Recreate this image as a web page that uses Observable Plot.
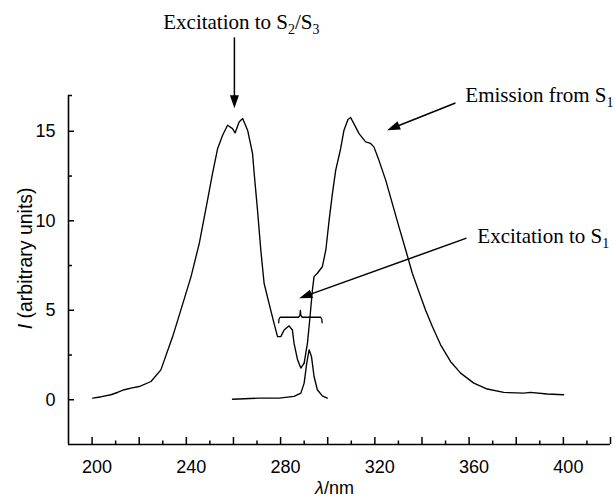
<!DOCTYPE html>
<html><head><meta charset="utf-8">
<script src="https://cdn.jsdelivr.net/npm/d3@7"></script>
<script src="https://cdn.jsdelivr.net/npm/@observablehq/plot@0.6"></script>
<style>html,body{margin:0;padding:0;background:#fff}#chart svg{display:block}</style>
</head><body><div id="chart"></div>
<script>
// ---- data ----
const excitationNm = [200.3, 204, 208, 211, 213.7, 217, 220, 225, 229.2, 234.2, 237.7, 242, 245.5, 249, 251.1, 253.3, 255.4, 257.5, 259.6, 260.7, 262.4, 263.9, 266, 268.1, 268.8, 270.2, 271.6, 273, 275.1, 277.2, 278.7, 280.1, 281.5, 283.6, 285, 285.7, 287.2, 288.6, 290];
const excitationI  = [0.09, 0.17, 0.28, 0.42, 0.56, 0.66, 0.74, 1.02, 1.67, 3.53, 5.02, 6.88, 8.74, 11.15, 12.64, 14.04, 14.78, 15.34, 15.15, 14.91, 15.52, 15.71, 15.06, 13.76, 12.64, 10.6, 8.37, 6.51, 5.39, 4.28, 3.53, 3.53, 3.9, 4.13, 3.9, 3.16, 2.23, 1.77, 2.05];
const emissionNm = [290, 291.4, 292.5, 293.5, 294.2, 295.6, 297.7, 299.2, 300.6, 302, 303.4, 305.5, 306.9, 308.6, 309.7, 311.1, 313.3, 316.1, 318.2, 319.6, 321.7, 324.6, 327.4, 330.2, 333.1, 335.9, 338.7, 341.5, 344.4, 347.9, 352.1, 356.4, 362, 367.7, 374.7, 383.2, 386, 393.1, 400.1];
const emissionI  = [2.05, 3.16, 4.65, 6.13, 6.88, 7.07, 7.43, 8.37, 10.04, 11.53, 12.83, 14.04, 15.06, 15.66, 15.77, 15.43, 14.87, 14.41, 14.32, 14.13, 13.39, 12.27, 10.97, 9.67, 8.37, 7.07, 6.04, 5.02, 4.09, 3.07, 2.14, 1.49, 0.93, 0.6, 0.41, 0.37, 0.41, 0.32, 0.28];
const scatterNm = [259.6, 270.8, 279.4, 285.7, 288.6, 290, 291.1, 292.1, 293.1, 294.2, 295.6, 297.7, 299.8];
const scatterI  = [0.03, 0.09, 0.09, 0.19, 0.37, 0.93, 2.05, 2.79, 2.42, 1.3, 0.56, 0.22, 0.09];

// axis ticks
const xLabelTicks = [200, 240, 280, 320, 360, 400];
const xMajorTicks = [200, 220, 240, 260, 280, 300, 320, 340, 360, 380, 400, 420];
const xMinorTicks = [210, 230, 250, 270, 290, 310, 330, 350, 370, 390, 410];
const yLabelTicks = [0, 5, 10, 15];
const yMinorTicks = [2.5, 7.5, 12.5, 17];
const xAxisLabel = "*λ*/nm";
const yAxisLabel = "*I* (arbitrary units)";

// annotations
const annoText = ["Excitation to S_2/S_3", "Emission from S_1", "Excitation to S_1"];
const annoNm = [230.2, 358.4, 363.5];
const annoI  = [20.73, 16.62, 8.78];
const arrowFromNm = [260.4, 354.2, 358.9];
const arrowFromI  = [20.25, 16.58, 9.03];
const arrowToNm   = [260.4, 325.2, 287.9];
const arrowToI    = [16.29, 15.06, 5.67];
// curly brace marking the S1 excitation band
const braceNm = [279.2, 279.3, 279.8, 287.6, 288.2, 288.4, 288.6, 289.2, 297.0, 297.5, 297.6];
const braceI  = [4.3, 4.5, 4.61, 4.61, 4.72, 4.99, 4.72, 4.61, 4.61, 4.5, 4.3];

// ---- build tables ----
const toRows = (xs, ys) => xs.map((x, i) => ({x, y: ys[i]}));
const excitation = toRows(excitationNm, excitationI);
const emission = toRows(emissionNm, emissionI);
const scatter = toRows(scatterNm, scatterI);
const brace = toRows(braceNm, braceI);
const annos = annoText.map((t, i) => ({t, x: annoNm[i], y: annoI[i]}));

const W = 616, H = 501, mL = 68, mR = 6, mT = 95, mB = 57;
const plotW = W - mL - mR, plotH = H - mT - mB;
const SANS = "Liberation Sans, Arial, Helvetica, sans-serif";
const SERIF = "Liberation Serif, Times New Roman, serif";

const arrowHead = {draw(ctx) { ctx.moveTo(0, 0); ctx.lineTo(4.5, 13); ctx.lineTo(-4.5, 13); ctx.closePath(); }};

function build(arrows) {
  return Plot.plot({
    width: W, height: H,
    marginLeft: mL, marginRight: mR, marginTop: mT, marginBottom: mB,
    style: {fontFamily: SANS, fontSize: "18px", background: "#fff", color: "#000"},
    x: {domain: [190, 420], axis: null},
    y: {domain: [-2.5, 17], axis: null},
    marks: [
      // axes
      Plot.axisX({ticks: xLabelTicks, tickSize: 0, tickPadding: 16, dx: 5, fontSize: 18, label: null}),
      Plot.axisY({ticks: yLabelTicks, tickSize: 0, tickPadding: 13, fontSize: 18, label: null}),
      Plot.tickX(xMajorTicks, {x: d => d, insetTop: plotH - 7, strokeWidth: 1.5}),
      Plot.tickX(xMinorTicks, {x: d => d, insetTop: plotH - 3.5, strokeWidth: 1.5}),
      Plot.tickY(yLabelTicks, {y: d => d, insetRight: plotW - 6, strokeWidth: 1.5}),
      Plot.tickY(yMinorTicks, {y: d => d, insetRight: plotW - 4, strokeWidth: 1.5}),
      Plot.ruleX([190], {y1: -2.5, y2: 17, strokeWidth: 1.6}),
      Plot.ruleY([-2.5], {x1: 190, x2: 420, strokeWidth: 1.6}),
      Plot.text([xAxisLabel], {x: 302.9, y: -5.24, text: d => d, textAnchor: "middle", lineAnchor: "bottom", fontSize: 18, fontFamily: SANS}),
      Plot.text([yAxisLabel], {x: 174.3, y: 7.9, text: d => d, rotate: -90, textAnchor: "middle", lineAnchor: "bottom", fontSize: 19.5, fontFamily: SANS}),
      // spectra
      Plot.line(excitation, {x: "x", y: "y", stroke: "#000", strokeWidth: 1.35}),
      Plot.line(emission, {x: "x", y: "y", stroke: "#000", strokeWidth: 1.35}),
      Plot.line(scatter, {x: "x", y: "y", stroke: "#000", strokeWidth: 1.35}),
      Plot.line(brace, {x: "x", y: "y", stroke: "#000", strokeWidth: 1.3}),
      // annotations
      Plot.link(arrows, {x1: "x1", y1: "y1", x2: "bx", y2: "by", stroke: "#000", strokeWidth: 1.5}),
      Plot.dot(arrows, {x: "x2", y: "y2", symbol: arrowHead, rotate: "rot", fill: "#000", stroke: "none", r: 5}),
      Plot.text(annos, {x: "x", y: "y", text: "t", textAnchor: "start", lineAnchor: "bottom", fontSize: 21, fontFamily: SERIF})
    ]
  });
}

let arrows = arrowFromNm.map((x1, i) => ({x1, y1: arrowFromI[i], x2: arrowToNm[i], y2: arrowToI[i], bx: arrowToNm[i], by: arrowToI[i], rot: 0}));
let chart = build(arrows);
const sx = chart.scale("x"), sy = chart.scale("y");
arrows = arrows.map(a => {
  const px1 = sx.apply(a.x1), py1 = sy.apply(a.y1), px2 = sx.apply(a.x2), py2 = sy.apply(a.y2);
  const dx = px2 - px1, dy = py2 - py1, L = Math.hypot(dx, dy);
  const ux = dx / L, uy = dy / L;
  return {...a, rot: Math.atan2(dx, -dy) * 180 / Math.PI, bx: sx.invert(px2 - 10 * ux), by: sy.invert(py2 - 10 * uy)};
});
chart = build(arrows);
document.getElementById("chart").appendChild(chart);

// rich text: _d -> subscript, *..* -> italic
const NS = "http://www.w3.org/2000/svg";
d3.select(chart).selectAll("text").each(function () {
  const s = this.textContent;
  if (!/(_\d|\*)/.test(s)) return;
  const fs = parseFloat(getComputedStyle(this).fontSize) || 18;
  const parts = s.split(/(_\d|\*[^*]+\*)/).filter(p => p);
  this.textContent = "";
  let shift = 0;
  for (const p of parts) {
    const t = document.createElementNS(NS, "tspan");
    if (p.startsWith("_")) {
      t.textContent = p.slice(1);
      t.setAttribute("font-size", (fs * 0.66).toFixed(1));
      const d = fs * 0.24; t.setAttribute("dy", (d - shift).toFixed(1)); shift = d;
    } else {
      if (p.startsWith("*")) { t.textContent = p.slice(1, -1); t.setAttribute("font-style", "italic"); }
      else t.textContent = p;
      if (shift) { t.setAttribute("dy", (-shift).toFixed(1)); shift = 0; }
    }
    this.appendChild(t);
  }
});
</script></body></html>
